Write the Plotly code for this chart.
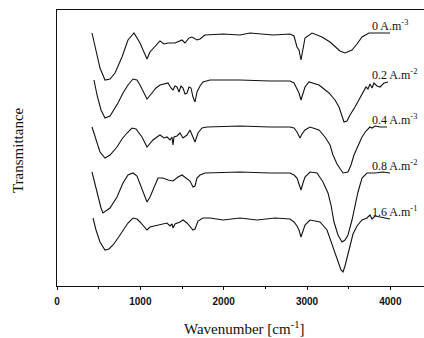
import plotly.graph_objects as go

# Wavenumber (cm^-1) and transmittance (arbitrary, vertically offset)
wn_0 = [420, 468, 516, 576, 636, 696, 780, 852, 924, 996, 1080, 1116, 1176, 1236, 1284, 1332, 1416, 1464, 1500, 1536, 1584, 1620, 1680, 1716, 1776, 1992, 2196, 2316, 2592, 2796, 2844, 2880, 2904, 2928, 2952, 2976, 3060, 3180, 3276, 3336, 3396, 3456, 3540, 3600, 3660, 3744, 3876, 3996]
t_0 = [253, 236, 218, 206, 207, 213, 229, 246, 253, 243, 227, 234, 239, 245, 242, 243, 243, 245, 246, 243, 248, 249, 246, 247, 251, 252, 251, 253, 251, 252, 250, 239, 236, 226, 238, 248, 253, 249, 244, 239, 235, 233, 236, 242, 249, 253, 253, 253]

wn_02 = [444, 480, 528, 576, 636, 732, 792, 852, 912, 960, 996, 1044, 1080, 1140, 1188, 1236, 1332, 1368, 1392, 1416, 1440, 1464, 1488, 1512, 1536, 1560, 1584, 1608, 1632, 1656, 1680, 1716, 1752, 1836, 2196, 2556, 2796, 2844, 2880, 2904, 2928, 2952, 2976, 3024, 3144, 3264, 3336, 3384, 3420, 3444, 3480, 3516, 3576, 3660, 3708, 3732, 3756, 3780, 3804, 3840, 3876, 3924, 3972]
t_02 = [206, 191, 176, 168, 170, 183, 193, 201, 207, 206, 201, 192, 187, 193, 198, 201, 203, 198, 196, 200, 199, 194, 200, 198, 192, 193, 199, 198, 189, 184, 194, 200, 204, 206, 206, 205, 205, 203, 196, 193, 186, 194, 199, 204, 201, 193, 186, 179, 170, 164, 165, 171, 179, 191, 199, 197, 202, 198, 203, 200, 199, 203, 204]

wn_04 = [420, 468, 516, 576, 636, 720, 780, 840, 900, 948, 1020, 1080, 1116, 1152, 1200, 1236, 1284, 1320, 1356, 1380, 1392, 1404, 1440, 1476, 1512, 1560, 1596, 1632, 1656, 1692, 1740, 1800, 2196, 2556, 2796, 2844, 2880, 2916, 2940, 2976, 3036, 3144, 3216, 3276, 3312, 3360, 3396, 3432, 3492, 3528, 3564, 3612, 3660, 3708, 3732, 3756, 3780, 3816, 3876, 3960]
t_04 = [159, 146, 134, 128, 131, 139, 147, 153, 158, 157, 149, 139, 143, 146, 149, 151, 148, 149, 146, 149, 141, 149, 150, 153, 148, 151, 156, 148, 144, 153, 158, 159, 160, 159, 159, 158, 154, 148, 152, 156, 159, 156, 149, 141, 131, 122, 118, 113, 114, 121, 131, 141, 149, 155, 157, 159, 158, 160, 159, 159]

wn_08 = [420, 456, 492, 528, 552, 588, 636, 720, 792, 852, 912, 960, 1008, 1056, 1080, 1116, 1152, 1188, 1212, 1272, 1332, 1392, 1452, 1500, 1548, 1596, 1632, 1656, 1680, 1716, 1776, 2196, 2556, 2796, 2844, 2880, 2904, 2928, 2952, 2976, 3036, 3120, 3192, 3252, 3288, 3324, 3372, 3420, 3456, 3492, 3540, 3576, 3612, 3660, 3720, 3816, 3912, 3996]
t_08 = [114, 101, 89, 78, 73, 75, 78, 89, 103, 111, 113, 110, 100, 88, 84, 89, 96, 104, 108, 108, 106, 105, 109, 111, 108, 105, 99, 100, 108, 111, 113, 114, 113, 113, 111, 108, 102, 96, 103, 109, 114, 113, 104, 93, 81, 64, 51, 44, 46, 51, 66, 81, 94, 108, 113, 113, 114, 113]

wn_16 = [432, 468, 516, 576, 624, 672, 732, 792, 852, 912, 960, 996, 1044, 1080, 1116, 1164, 1236, 1320, 1356, 1380, 1392, 1416, 1476, 1512, 1560, 1596, 1632, 1656, 1692, 1752, 1836, 1992, 2196, 2400, 2616, 2796, 2844, 2880, 2904, 2928, 2952, 2976, 3036, 3156, 3240, 3312, 3372, 3408, 3432, 3456, 3504, 3552, 3600, 3660, 3720, 3756, 3780, 3816, 3876, 3996]
t_16 = [68, 56, 44, 36, 37, 41, 48, 56, 63, 68, 67, 64, 59, 56, 59, 60, 61, 63, 60, 62, 58, 62, 64, 66, 63, 60, 56, 57, 65, 68, 68, 66, 68, 66, 68, 67, 64, 60, 56, 49, 56, 61, 66, 64, 56, 39, 23, 16, 14, 20, 36, 52, 60, 66, 68, 71, 67, 70, 69, 67]

series_labels = ["0 A.m<sup>-3</sup>", "0.2 A.m<sup>-2</sup>", "0.4 A.m<sup>-3</sup>",
                 "0.8 A.m<sup>-2</sup>", "1.6 A.m<sup>-1</sup>"]
x_tick_values = [0, 1000, 2000, 3000, 4000]
x_tick_labels = ["0", "1000", "2000", "3000", "4000"]

series = [(wn_0, t_0), (wn_02, t_02), (wn_04, t_04), (wn_08, t_08), (wn_16, t_16)]

fig = go.Figure()
for (xs, ys), name in zip(series, series_labels):
    fig.add_trace(go.Scatter(x=xs, y=ys, mode="lines", name=name,
                             line=dict(color="#111111", width=1.1),
                             showlegend=False))

annotations = []
for (xs, ys), name in zip(series, series_labels):
    annotations.append(dict(x=3750, y=ys[-1], xref="x", yref="y", text=name,
                            showarrow=False, xanchor="left", yanchor="bottom",
                            yshift=-2,
                            font=dict(family="Liberation Serif", size=12, color="#111111")))

annotations.append(dict(x=0.51, y=-0.152, xref="paper", yref="paper",
                        text="Wavenumber [cm<sup>-1</sup>]", showarrow=False,
                        xanchor="center", yanchor="middle",
                        font=dict(family="Liberation Serif", size=15, color="#111111")))
annotations.append(dict(x=-0.106, y=0.493, xref="paper", yref="paper",
                        text="Transmittance", showarrow=False, textangle=-90,
                        xanchor="center", yanchor="middle",
                        font=dict(family="Liberation Serif", size=15, color="#111111")))

fig.update_layout(
    width=424, height=338,
    margin=dict(l=57, r=0, t=10, b=52),
    paper_bgcolor="white", plot_bgcolor="white",
    annotations=annotations,
    xaxis=dict(range=[0, 4404], showgrid=False, zeroline=False,
               showline=True, linecolor="#111111", linewidth=1.3, mirror=True,
               ticks="outside", ticklen=3, tickwidth=1, tickcolor="#111111",
               tickvals=x_tick_values, ticktext=x_tick_labels,
               ticklabelstandoff=3,
               tickfont=dict(family="Liberation Sans", size=10, color="#111111", weight="bold"),
               minor=dict(dtick=500, tick0=0, ticks="outside", ticklen=2, tickcolor="#111111")),
    yaxis=dict(range=[0, 276], showgrid=False, zeroline=False,
               showline=True, linecolor="#111111", linewidth=1.3,
               showticklabels=False, ticks=""),
)

fig.write_html("out.html", config={"displayModeBar": False},
               post_script="document.body.style.margin='0';document.body.style.overflow='hidden';")
